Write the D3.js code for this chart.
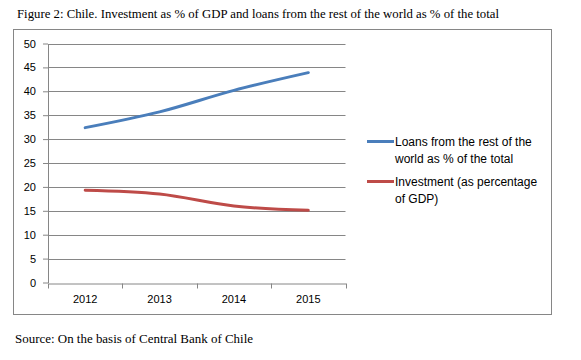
<!DOCTYPE html>
<html>
<head>
<meta charset="utf-8">
<script src="https://cdn.jsdelivr.net/npm/d3@7"></script>
<style>
  html, body { margin: 0; padding: 0; background: #fff; }
  svg { display: block; }
</style>
</head>
<body>
<svg id="chart" width="581" height="360"></svg>
<script>
const years = ["2012", "2013", "2014", "2015"];
const loansShare = [32.4, 35.7, 40.2, 43.9];
const investmentGdp = [19.3, 18.5, 16.0, 15.1];
const yTicks = [0, 5, 10, 15, 20, 25, 30, 35, 40, 45, 50];
const seriesNames = [
  ["Loans from the rest of the", "world as % of the total"],
  ["Investment (as percentage", "of GDP)"]
];
const colors = ["#4A7EBB", "#BE4B48"];
const titleText = "Figure 2: Chile. Investment as % of GDP and loans from the rest of the  world as % of the total";
const sourceText = "Source: On the basis of Central Bank of Chile";

const svg = d3.select("#chart");
const plot = { left: 48, right: 345.5, top: 43.5, bottom: 282.5 };

// Title & source
svg.append("text").attr("x", 17).attr("y", 18)
  .attr("font-family", "'Liberation Serif', 'Times New Roman', serif")
  .attr("font-size", 12).attr("fill", "#000")
  .attr("textLength", 482).attr("lengthAdjust", "spacingAndGlyphs")
  .text(titleText);
svg.append("text").attr("x", 15).attr("y", 343)
  .attr("font-family", "'Liberation Serif', 'Times New Roman', serif")
  .attr("font-size", 12).attr("fill", "#000")
  .attr("textLength", 238).attr("lengthAdjust", "spacingAndGlyphs")
  .text(sourceText);

// Chart border
svg.append("rect").attr("x", 13.5).attr("y", 29.5).attr("width", 538).attr("height", 285)
  .attr("fill", "none").attr("stroke", "#868686").attr("stroke-width", 1);

const x = d3.scaleBand().domain(years).range([plot.left, plot.right]).padding(0);
const y = d3.scaleLinear().domain([0, 50]).range([plot.bottom, plot.top]);

const font = "'Liberation Sans', Arial, sans-serif";

// Gridlines
svg.append("g").selectAll("line").data(yTicks.filter(d => d > 0)).join("line")
  .attr("x1", plot.left).attr("x2", plot.right)
  .attr("y1", d => Math.round(y(d)) + 0.5).attr("y2", d => Math.round(y(d)) + 0.5)
  .attr("stroke", "#868686").attr("stroke-width", 1);

// Y axis
const yAxis = svg.append("g").attr("transform", `translate(${plot.left},0)`)
  .call(d3.axisLeft(y).tickValues(yTicks).tickSize(5).tickPadding(7).tickSizeOuter(0));
yAxis.select(".domain").attr("stroke", "#868686");
yAxis.selectAll(".tick line").attr("stroke", "#868686");
yAxis.selectAll(".tick text").attr("font-family", font).attr("font-size", 11).attr("fill", "#000");

// X axis
const xAxis = svg.append("g").attr("transform", `translate(0,${Math.round(y(0)) + 0.5})`)
  .call(d3.axisBottom(x).tickSize(0).tickPadding(12).tickSizeOuter(0));
xAxis.select(".domain").attr("stroke", "#868686");
xAxis.selectAll(".tick text").attr("font-family", font).attr("font-size", 11).attr("fill", "#000");
// tick marks at band boundaries
const boundaries = years.map(d => x(d)).concat([x(years[years.length - 1]) + x.bandwidth()]);
xAxis.append("g").selectAll("line").data(boundaries).join("line")
  .attr("x1", d => Math.round(d) + 0.5).attr("x2", d => Math.round(d) + 0.5)
  .attr("y1", 0).attr("y2", 5).attr("stroke", "#868686");

// Lines
const line = d3.line()
  .x((d, i) => x(years[i]) + x.bandwidth() / 2)
  .y(d => y(d))
  .curve(d3.curveCatmullRom.alpha(0.5));
[loansShare, investmentGdp].forEach((s, i) => {
  svg.append("path").datum(s).attr("d", line)
    .attr("fill", "none").attr("stroke", colors[i]).attr("stroke-width", 3)
    .attr("stroke-linecap", "round");
});

// Legend
const legendY = [141.5, 181.5];
seriesNames.forEach((lines, i) => {
  const g = svg.append("g");
  g.append("line").attr("x1", 367).attr("x2", 394)
    .attr("y1", legendY[i]).attr("y2", legendY[i])
    .attr("stroke", colors[i]).attr("stroke-width", 3);
  lines.forEach((t, j) => {
    g.append("text").attr("x", 395).attr("y", legendY[i] + 4.5 + j * 16.5)
      .attr("font-family", font).attr("font-size", 12).attr("fill", "#000")
      .text(t);
  });
});
</script>
</body>
</html>
